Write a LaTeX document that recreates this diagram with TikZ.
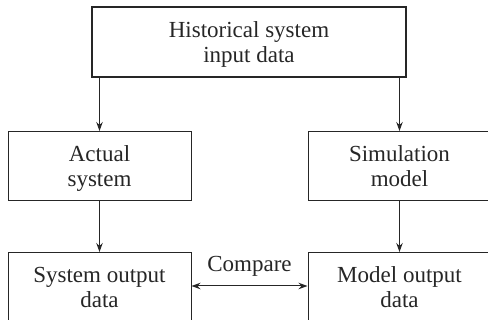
\documentclass[tikz,border=0pt]{standalone}
\usepackage{fontspec}
\setmainfont{Liberation Serif}
\usetikzlibrary{arrows.meta}
\newcommand{\twolines}[2]{\begin{tabular}[t]{@{}c@{}}#1\\#2\end{tabular}}
\begin{document}
\begin{tikzpicture}[x=1pt,y=-1pt,
  box/.style={draw=black!85, line width=1pt, inner sep=0pt,
    minimum width=183pt, minimum height=69pt, text height=15pt, text depth=23pt,
    font=\fontsize{23}{25}\selectfont, text=black!85},
  topbox/.style={box, line width=1.8pt, minimum width=314pt, minimum height=70pt},
  arr/.style={draw=black!85, line width=1pt, -{Stealth[length=9pt,width=6.5pt]}},
  darr/.style={draw=black!85, line width=1pt, {Stealth[length=9pt,width=6.5pt]}-{Stealth[length=9pt,width=6.5pt]}}]
\useasboundingbox (0,0) rectangle (488,320);
\clip (0,0) rectangle (488,320);
\node[topbox] (hist) at (249,42) {\twolines{Historical system}{input data}};
\node[box] (act) at (99.5,166) {\twolines{Actual}{system}};
\node[box] (sim) at (399.5,166) {\twolines{Simulation}{model}};
\node[box] (sout) at (99.5,287) {\twolines{System output}{data}};
\node[box] (mout) at (399.5,287) {\twolines{Model output}{data}};
\draw[arr] (hist.south -| act.north) -- (act.north);
\draw[arr] (hist.south -| sim.north) -- (sim.north);
\draw[arr] (act) -- (sout);
\draw[arr] (sim) -- (mout);
\draw[darr] ([yshift=1pt]sout.east) -- node[above=9pt, inner sep=0pt, font=\fontsize{23}{25}\selectfont, text=black!85] (cmp) {Compare} ([yshift=1pt]mout.west);
\end{tikzpicture}
\end{document}
